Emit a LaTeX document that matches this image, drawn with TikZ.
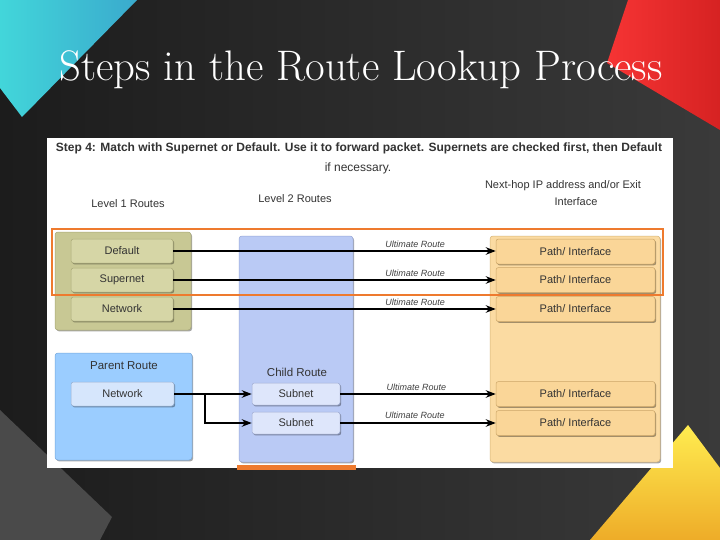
\documentclass[tikz,border=0pt]{standalone}
\usepackage{fontspec}
\newfontfamily\arial{Liberation Sans}
\usetikzlibrary{arrows.meta,shadows}
\definecolor{bgA}{RGB}{28,28,28}
\definecolor{bgB}{RGB}{58,58,58}
\definecolor{cyA}{RGB}{58,170,205}
\definecolor{cyB}{RGB}{66,214,218}
\definecolor{rdA}{RGB}{246,52,52}
\definecolor{rdB}{RGB}{214,34,34}
\definecolor{ylA}{RGB}{255,236,80}
\definecolor{ylB}{RGB}{238,172,40}
\definecolor{grL}{RGB}{74,74,74}
\definecolor{olBox}{RGB}{200,200,148}
\definecolor{olBoxD}{RGB}{168,168,118}
\definecolor{olBtn}{RGB}{214,214,166}
\definecolor{olBtnD}{RGB}{172,172,122}
\definecolor{l2C}{RGB}{186,202,245}
\definecolor{l2D}{RGB}{150,166,214}
\definecolor{subC}{RGB}{222,230,251}
\definecolor{subD}{RGB}{160,172,210}
\definecolor{parC}{RGB}{155,205,255}
\definecolor{parD}{RGB}{118,168,220}
\definecolor{pnC}{RGB}{214,230,252}
\definecolor{pnD}{RGB}{150,175,210}
\definecolor{nhC}{RGB}{251,219,162}
\definecolor{nhD}{RGB}{214,180,120}
\definecolor{pbC}{RGB}{250,214,152}
\definecolor{pbD}{RGB}{204,166,104}
\definecolor{hiC}{RGB}{238,122,46}
\tikzset{
  shd/.style={drop shadow={shadow xshift=1.2pt,shadow yshift=-1.4pt,opacity=0.35,fill=black}},
  box/.style={rounded corners=3pt, shd, line width=0.5pt},
  btn/.style={rounded corners=2.5pt, shd, line width=0.5pt, minimum height=24pt,
     font=\arial\fontsize{11}{13}\selectfont, text=black!80, inner sep=0pt},
  olbtn/.style={btn, fill=olBtn, draw=olBtnD, minimum width=102pt},
  subbtn/.style={btn, fill=subC, draw=subD, minimum width=88pt, minimum height=22pt},
  pnbtn/.style={btn, fill=pnC, draw=pnD, minimum width=103pt},
  pbtn/.style={btn, fill=pbC, draw=pbD, minimum width=159pt, minimum height=25pt},
  hdr/.style={font=\arial\fontsize{11}{13}\selectfont, text=black!80, inner sep=0pt},
  lbl/.style={font=\arial\itshape\fontsize{9}{11}\selectfont, text=black!75, inner sep=0pt},
  arr/.style={line width=1.5pt, -{Stealth[length=10pt,width=7.5pt]}}
}
\begin{document}
\begin{tikzpicture}[x=1pt,y=-1pt]
\useasboundingbox (0,0) rectangle (720,540);
% background
\shade[left color=bgA, right color=bgB] (0,0) rectangle (720,540);
\shade[left color=cyB, right color=cyA] (0,0) -- (137,0) -- (22,117) -- (0,88) -- cycle;
\shade[left color=rdA, right color=rdB] (628,0) -- (720,0) -- (720,130) -- (607,63) -- cycle;
\shade[top color=ylA, bottom color=ylB] (688,425) -- (720,468) -- (720,540) -- (590,540) -- cycle;
\fill[grL] (0,410) -- (112,517) -- (100,540) -- (0,540) -- cycle;
% title
\node[text=white, font=\fontsize{42.7}{48}\selectfont, inner sep=0pt] (title) at (361,70) {Steps in the Route Lookup Process};
% panel
\fill[white] (47,138) rectangle (673,468);
\fill[hiC] (237,465) rectangle (356,470);
\node[font=\arial\bfseries\fontsize{12}{14}\selectfont, text=black!80, inner sep=0pt] (h1) at (359,148) {Step 4: Match with Supernet or Default. Use it to forward packet. Supernets are checked first, then Default};
\node[font=\arial\fontsize{12}{14}\selectfont, text=black!80, inner sep=0pt] (h2) at (358,168) {if necessary.};
\node[hdr] (lv1) at (128,204) {Level 1 Routes};
\node[hdr] (lv2) at (295,199) {Level 2 Routes};
\node[hdr] (nh1) at (563,186) {Next-hop IP address and/or Exit};
\node[hdr] (nh2) at (576,202) {Interface};
% containers
\node[box, fill=olBox, draw=olBoxD, minimum width=136pt, minimum height=98pt] (l1) at (123,281) {};
\node[box, fill=l2C, draw=l2D, minimum width=114pt, minimum height=226pt] (l2) at (296,349) {};
\node[box, fill=parC, draw=parD, minimum width=137pt, minimum height=107pt] (par) at (123.5,406.5) {};
\node[box, fill=nhC, draw=nhD, minimum width=170pt, minimum height=226pt] (nh) at (575,349) {};
\node[hdr, font=\arial\fontsize{11.5}{13}\selectfont] (pr) at (124,366) {Parent Route};
\node[hdr, font=\arial\fontsize{11.5}{13}\selectfont] (cr) at (297,372) {Child Route};
% buttons
\node[olbtn] (def) at (122,251) {Default};
\node[olbtn] (sup) at (122,280) {Supernet};
\node[olbtn] (net) at (122,309) {Network};
\node[pnbtn] (pnet) at (122.5,394) {Network};
\node[subbtn] (sub1) at (296,394) {Subnet};
\node[subbtn] (sub2) at (296,423) {Subnet};
\node[pbtn] (p1) at (575.5,251.5) {Path/ Interface};
\node[pbtn] (p2) at (575.5,280) {Path/ Interface};
\node[pbtn] (p3) at (575.5,309) {Path/ Interface};
\node[pbtn] (p4) at (575.5,394) {Path/ Interface};
\node[pbtn] (p5) at (575.5,423) {Path/ Interface};
% highlight
\draw[hiC, line width=2pt] (52,229) rectangle (663,295);
% arrows
\draw[arr] (def.east) -- (def.east -| p1.west) node[pos=0.75, above=3pt, lbl] {Ultimate Route};
\draw[arr] (sup.east) -- (sup.east -| p2.west) node[pos=0.75, above=3pt, lbl] {Ultimate Route};
\draw[arr] (net.east) -- (net.east -| p3.west) node[pos=0.75, above=3pt, lbl] {Ultimate Route};
\draw[arr] (sub1.east) -- (sub1.east -| p4.west) node[pos=0.49, above=3pt, lbl] {Ultimate Route};
\draw[arr] (sub2.east) -- (sub2.east -| p5.west) node[pos=0.48, above=4pt, lbl] {Ultimate Route};
\coordinate (br) at (205,394);
\draw[arr] (pnet.east) -- (sub1.west);
\draw[arr] (br) |- (sub2.west);
\end{tikzpicture}
\end{document}
